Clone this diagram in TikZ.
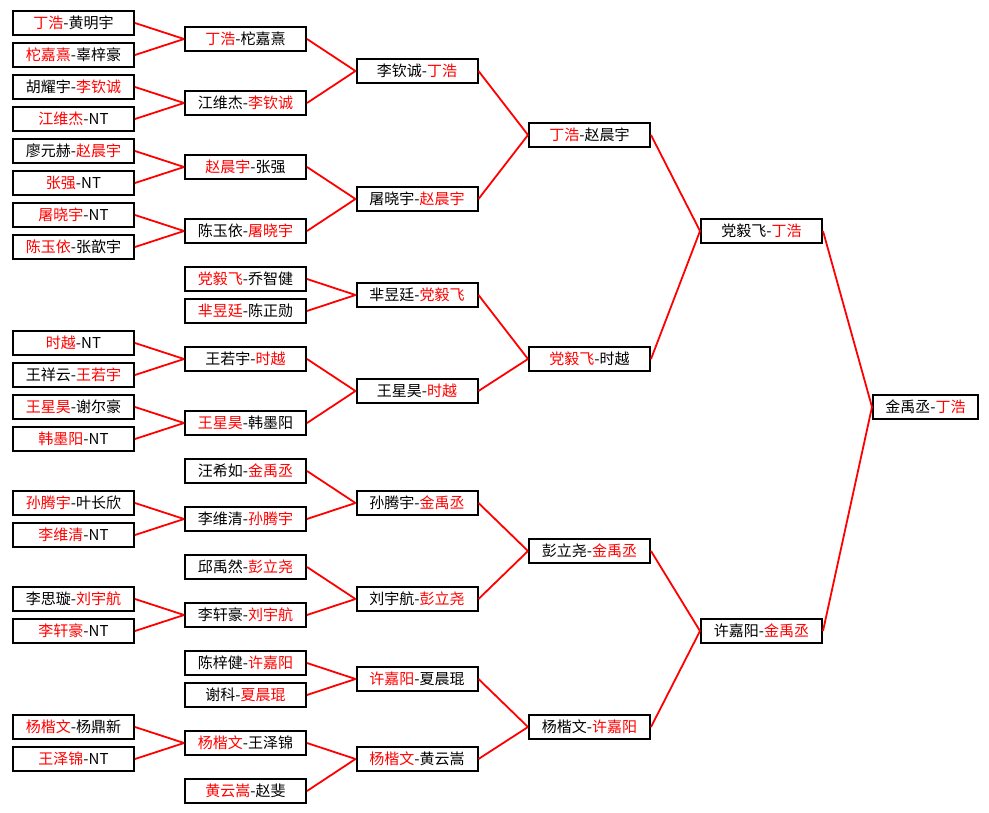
\documentclass[tikz,border=0pt]{standalone}
\usepackage{fontspec}
\setmainfont{Noto Sans CJK SC}
\newcommand\rd[1]{\textcolor{red}{#1}}
\tikzset{
  pbox/.style={draw=black, line width=2pt, fill=white, minimum width=121pt, minimum height=24pt, inner sep=0pt, font=\fontsize{15}{15}\selectfont, text=black},
  fbox/.style={pbox, minimum width=105pt},
  link/.style={draw=red, line width=1.8pt}
}
\begin{document}
\begin{tikzpicture}[x=1pt,y=1pt]
\useasboundingbox[fill=white] (0,0) rectangle (989,-813);
% column 1
\node[pbox] (a0)  at (73.5,-23)  {\rd{丁浩}-黄明宇};
\node[pbox] (a2)  at (73.5,-55)  {\rd{柁嘉熹}-辜梓豪};
\node[pbox] (a4)  at (73.5,-87)  {胡耀宇-\rd{李钦诚}};
\node[pbox] (a6)  at (73.5,-119) {\rd{江维杰}-NT};
\node[pbox] (a8)  at (73.5,-151) {廖元赫-\rd{赵晨宇}};
\node[pbox] (a10) at (73.5,-183) {\rd{张强}-NT};
\node[pbox] (a12) at (73.5,-215) {\rd{屠晓宇}-NT};
\node[pbox] (a14) at (73.5,-247) {\rd{陈玉依}-张歆宇};
\node[pbox] (a20) at (73.5,-343) {\rd{时越}-NT};
\node[pbox] (a22) at (73.5,-375) {王祥云-\rd{王若宇}};
\node[pbox] (a24) at (73.5,-407) {\rd{王星昊}-谢尔豪};
\node[pbox] (a26) at (73.5,-439) {\rd{韩墨阳}-NT};
\node[pbox] (a30) at (73.5,-503) {\rd{孙腾宇}-叶长欣};
\node[pbox] (a32) at (73.5,-535) {\rd{李维清}-NT};
\node[pbox] (a36) at (73.5,-599) {李思璇-\rd{刘宇航}};
\node[pbox] (a38) at (73.5,-631) {\rd{李轩豪}-NT};
\node[pbox] (a44) at (73.5,-727) {\rd{杨楷文}-杨鼎新};
\node[pbox] (a46) at (73.5,-759) {\rd{王泽锦}-NT};
% column 2
\node[pbox] (b1)  at (245.5,-39)  {\rd{丁浩}-柁嘉熹};
\node[pbox] (b5)  at (245.5,-103) {江维杰-\rd{李钦诚}};
\node[pbox] (b9)  at (245.5,-167) {\rd{赵晨宇}-张强};
\node[pbox] (b13) at (245.5,-231) {陈玉依-\rd{屠晓宇}};
\node[pbox] (b16) at (245.5,-279) {\rd{党毅飞}-乔智健};
\node[pbox] (b18) at (245.5,-311) {\rd{芈昱廷}-陈正勋};
\node[pbox] (b21) at (245.5,-359) {王若宇-\rd{时越}};
\node[pbox] (b25) at (245.5,-423) {\rd{王星昊}-韩墨阳};
\node[pbox] (b28) at (245.5,-471) {汪希如-\rd{金禹丞}};
\node[pbox] (b31) at (245.5,-519) {李维清-\rd{孙腾宇}};
\node[pbox] (b34) at (245.5,-567) {邱禹然-\rd{彭立尧}};
\node[pbox] (b37) at (245.5,-615) {李轩豪-\rd{刘宇航}};
\node[pbox] (b40) at (245.5,-663) {陈梓健-\rd{许嘉阳}};
\node[pbox] (b42) at (245.5,-695) {谢科-\rd{夏晨琨}};
\node[pbox] (b45) at (245.5,-743) {\rd{杨楷文}-王泽锦};
\node[pbox] (b48) at (245.5,-791) {\rd{黄云嵩}-赵斐};
% column 3
\node[pbox] (c3)  at (417,-71)  {李钦诚-\rd{丁浩}};
\node[pbox] (c11) at (417,-199) {屠晓宇-\rd{赵晨宇}};
\node[pbox] (c17) at (417,-295) {芈昱廷-\rd{党毅飞}};
\node[pbox] (c23) at (417,-391) {王星昊-\rd{时越}};
\node[pbox] (c30) at (417,-503) {孙腾宇-\rd{金禹丞}};
\node[pbox] (c36) at (417,-599) {刘宇航-\rd{彭立尧}};
\node[pbox] (c41) at (417,-679) {\rd{许嘉阳}-夏晨琨};
\node[pbox] (c46) at (417,-759) {\rd{杨楷文}-黄云嵩};
% column 4
\node[pbox] (d7)  at (589.5,-135) {\rd{丁浩}-赵晨宇};
\node[pbox] (d21) at (589.5,-359) {\rd{党毅飞}-时越};
\node[pbox] (d33) at (589.5,-551) {彭立尧-\rd{金禹丞}};
\node[pbox] (d44) at (589.5,-727) {杨楷文-\rd{许嘉阳}};
% column 5
\node[pbox] (e13) at (761.5,-231) {党毅飞-\rd{丁浩}};
\node[pbox] (e38) at (761.5,-631) {许嘉阳-\rd{金禹丞}};
% column 6
\node[fbox] (f24) at (925.5,-407) {金禹丞-\rd{丁浩}};
% connectors col1 -> col2
\foreach \s/\t in {a0/b1,a2/b1,a4/b5,a6/b5,a8/b9,a10/b9,a12/b13,a14/b13,a20/b21,a22/b21,a24/b25,a26/b25,a30/b31,a32/b31,a36/b37,a38/b37,a44/b45,a46/b45}
  \draw[link] (\s.east) -- (\t.west);
% col2 -> col3
\foreach \s/\t in {b1/c3,b5/c3,b9/c11,b13/c11,b16/c17,b18/c17,b21/c23,b25/c23,b28/c30,b31/c30,b34/c36,b37/c36,b40/c41,b42/c41,b45/c46,b48/c46}
  \draw[link] (\s.east) -- (\t.west);
% col3 -> col4
\foreach \s/\t in {c3/d7,c11/d7,c17/d21,c23/d21,c30/d33,c36/d33,c41/d44,c46/d44}
  \draw[link] (\s.east) -- (\t.west);
% col4 -> col5
\foreach \s/\t in {d7/e13,d21/e13,d33/e38,d44/e38}
  \draw[link] (\s.east) -- (\t.west);
% col5 -> col6
\foreach \s/\t in {e13/f24,e38/f24}
  \draw[link] (\s.east) -- (\t.west);
\end{tikzpicture}
\end{document}
